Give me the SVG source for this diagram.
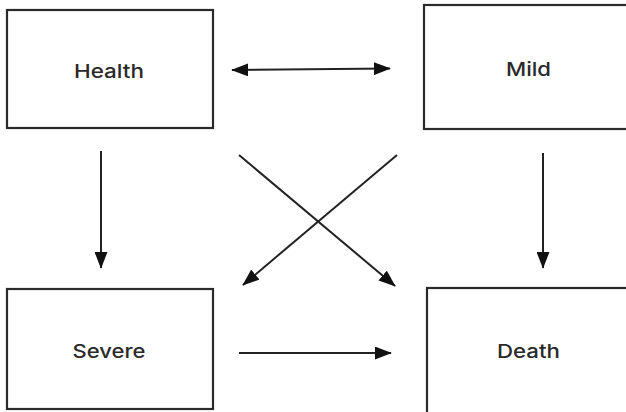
<svg xmlns="http://www.w3.org/2000/svg" width="626" height="412" viewBox="0 0 626 412">
<style>
.box{fill:#fff;stroke:#2a2a2a;stroke-width:2.2}
.lbl{font-family:Inter,"Liberation Sans",Arial,sans-serif;font-size:18.5px;font-weight:500;fill:#2a2a2a;text-anchor:middle}
.edge{stroke:#222;stroke-width:2;fill:none}
</style>
<defs>
<marker id="ah" viewBox="0 0 10 10" refX="9.5" refY="5" markerWidth="8.5" markerHeight="6.5" markerUnits="strokeWidth" orient="auto-start-reverse" preserveAspectRatio="none">
<path d="M0,0 L10,5 L0,10 z" fill="#111"/>
</marker>
</defs>
<rect width="626" height="412" fill="#fff"/>
<g id="health"><rect class="box" x="7" y="10" width="206" height="118"/><text class="lbl" x="109" y="78" textLength="70" lengthAdjust="spacingAndGlyphs">Health</text></g>
<g id="mild"><rect class="box" x="424" y="5" width="210" height="124"/><text class="lbl" x="528.5" y="76" textLength="45" lengthAdjust="spacingAndGlyphs">Mild</text></g>
<g id="severe"><rect class="box" x="7" y="289" width="206" height="120"/><text class="lbl" x="109" y="358" textLength="73" lengthAdjust="spacingAndGlyphs">Severe</text></g>
<g id="death"><rect class="box" x="427" y="288" width="210" height="130"/><text class="lbl" x="528.5" y="358" textLength="63" lengthAdjust="spacingAndGlyphs">Death</text></g>
<g id="connectors">
<line class="edge" x1="232" y1="70" x2="390" y2="68.5" marker-start="url(#ah)" marker-end="url(#ah)"/>
<line class="edge" x1="239" y1="155" x2="395" y2="286" marker-end="url(#ah)"/>
<line class="edge" x1="397" y1="155" x2="243" y2="285" marker-end="url(#ah)"/>
<line class="edge" x1="101" y1="151" x2="101" y2="268" marker-end="url(#ah)"/>
<line class="edge" x1="543" y1="153" x2="543" y2="268" marker-end="url(#ah)"/>
<line class="edge" x1="239" y1="353" x2="391" y2="353" marker-end="url(#ah)"/>
</g>
</svg>
